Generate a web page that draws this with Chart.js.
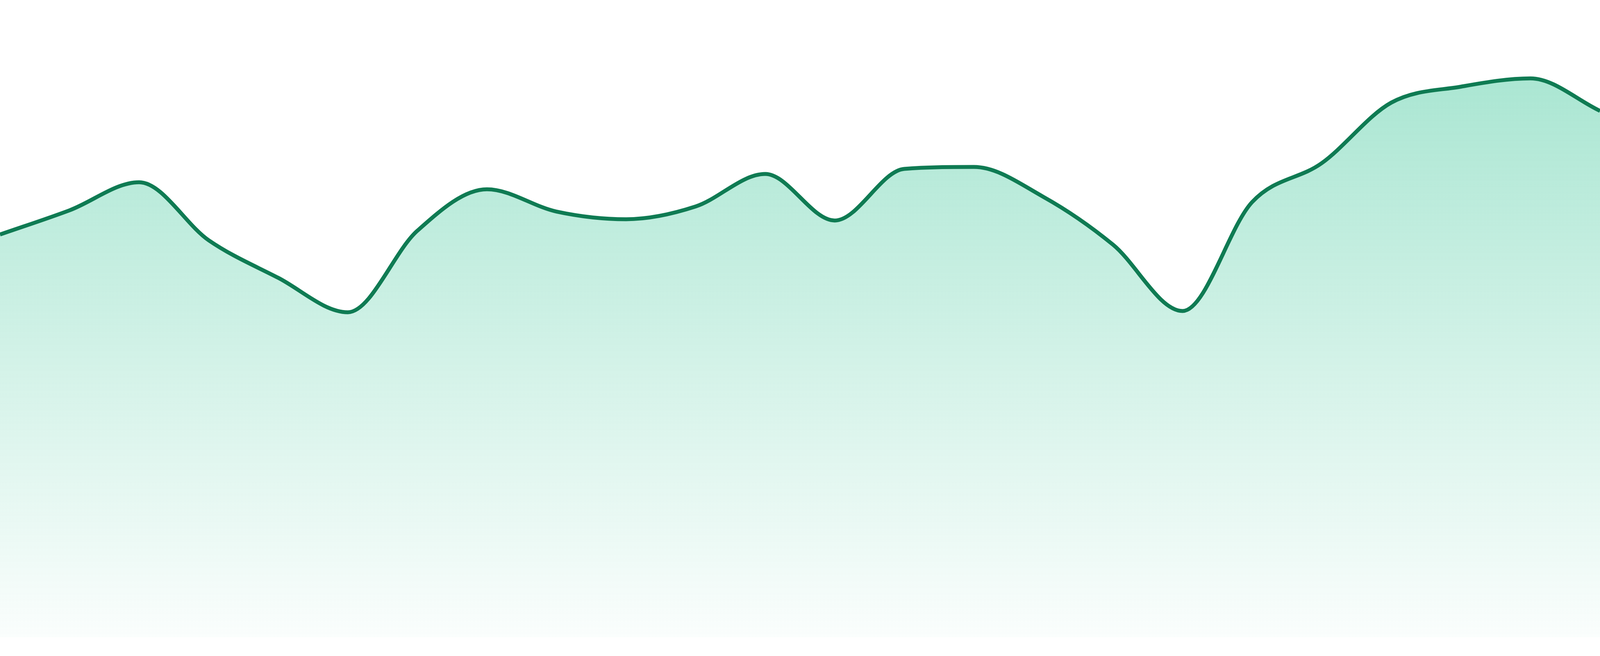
<!DOCTYPE html>
<html>
<head>
<meta charset="utf-8">
<script src="https://cdn.jsdelivr.net/npm/chart.js@4/dist/chart.umd.min.js"></script>
<style>
  html, body { margin: 0; padding: 0; background: #ffffff; overflow: hidden; width: 100%; height: 100%; }
  #wrap { position: fixed; left: 0; top: 0; width: 100vw; height: 100vh; }
  canvas { display: block; }
</style>
</head>
<body>
<div id="wrap"><canvas id="c"></canvas></div>
<script>
// Data (24 evenly spaced points, axes hidden)
const labels = ["1","2","3","4","5","6","7","8","9","10","11","12",
                "13","14","15","16","17","18","19","20","21","22","23","24"];
const values = [63.2, 67.0, 71.4, 62.3, 56.4, 51.0, 63.8, 70.3, 66.8, 65.6, 67.6, 72.7,
                65.4, 73.5, 73.8, 69.1, 61.6, 51.2, 68.3, 74.4, 83.9, 86.4, 87.7, 82.6];
const yMin = 0;
const yMax = 100;

const lineColor = '#0f7b53';
const H = window.innerHeight || 1680;
const sy = H / 1680;

const ctx = document.getElementById('c').getContext('2d');
new Chart(ctx, {
  type: 'line',
  data: {
    labels: labels,
    datasets: [{
      data: values,
      borderColor: lineColor,
      borderWidth: 10 * sy,
      pointRadius: 0,
      pointHoverRadius: 0,
      cubicInterpolationMode: 'monotone',
      fill: 'origin',
      backgroundColor: function(context) {
        const chart = context.chart;
        const area = chart.chartArea;
        if (!area) return 'rgba(16,185,129,0.2)';
        const g = chart.ctx.createLinearGradient(0, area.top, 0, area.bottom);
        g.addColorStop(0, 'rgba(16,185,129,0.40)');
        g.addColorStop(1, 'rgba(16,185,129,0.02)');
        return g;
      }
    }]
  },
  options: {
    responsive: true,
    maintainAspectRatio: false,
    animation: false,
    layout: { padding: { left: 0, right: 0, top: 0, bottom: 48 * sy } },
    plugins: {
      legend: { display: false },
      tooltip: { enabled: false },
      title: { display: false }
    },
    scales: {
      x: { display: false, offset: false },
      y: { display: false, min: yMin, max: yMax }
    }
  }
});
</script>
</body>
</html>
